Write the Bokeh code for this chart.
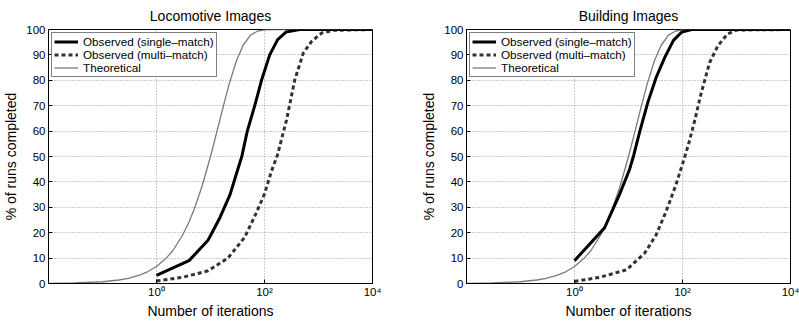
from bokeh.plotting import figure
from bokeh.models import Range1d, FixedTicker, Legend, LegendItem
from bokeh.layouts import row
from bokeh.embed import file_html
from bokeh.resources import INLINE

FONT = "Liberation Sans"

# Theoretical curve (same in both panels)
theory_x = [0.01, 0.03, 0.1, 0.2, 0.3, 0.5, 0.7, 1, 1.5, 2, 3, 4, 5, 7, 10, 13, 17, 22,
            30, 40, 55, 75, 100, 150, 10000]
theory_y = [0.07, 0.21, 0.69, 1.38, 2.06, 3.4, 4.7, 6.7, 9.9, 12.9, 18.8, 24.2, 29.3, 38.4,
            50.0, 59.4, 69.2, 78.3, 87.5, 93.7, 97.8, 99.4, 99.9, 100, 100]

# Locomotive Images
loco_single_x = [1, 4, 9, 15, 23, 30, 38, 48, 66, 88, 125, 175, 250, 450, 10000]
loco_single_y = [3.2, 9.0, 17.0, 26.0, 35.0, 43.0, 50.0, 60.0, 70.0, 80.0, 90.0, 96.0, 99.0, 100, 100]
loco_multi_x = [1, 3, 9, 21, 43, 68, 99, 135, 174, 256, 364, 522, 744, 1140, 1870, 10000]
loco_multi_y = [1.0, 2.4, 5.0, 10.0, 18.2, 27.1, 35.0, 44.3, 50.6, 64.4, 80.2, 90.7, 95.3, 98.6, 99.7, 100]

# Building Images
bldg_single_x = [1, 3.6, 6.8, 10.5, 12.5, 16, 22.8, 32.6, 47, 68, 97, 148, 10000]
bldg_single_y = [9.0, 21.9, 35.0, 45.0, 50.5, 59.5, 71.3, 81.2, 89.0, 95.7, 99.0, 100, 100]
bldg_multi_x = [1, 2.9, 9.2, 20, 32.6, 50, 76, 100, 130, 170, 222, 318, 455, 688, 1000, 10000]
bldg_multi_y = [0.8, 2.4, 5.4, 12.0, 19.2, 28.5, 39.0, 47.0, 55.0, 64.5, 75.0, 87.0, 93.7, 98.3, 99.8, 100]

x_ticks = [1, 100, 10000]
x_tick_labels = {1: "10\u2070", 100: "10\u00b2", 10000: "10\u2074"}
y_ticks = list(range(0, 101, 10))

legend_labels = ["Observed (single\u2013match)", "Observed (multi\u2013match)", "Theoretical"]


def make_panel(title, sx, sy, mx, my, border_left, border_right):
    p = figure(frame_width=324, frame_height=254,
               x_axis_type="log", x_range=Range1d(0.01, 10000), y_range=Range1d(0, 100),
               output_backend="svg", toolbar_location=None,
               min_border_left=border_left, min_border_right=border_right,
               min_border_top=29, min_border_bottom=38)
    p.title.text = title
    p.title.align = "center"
    p.title.text_font = FONT
    p.title.text_font_size = "14px"
    p.title.text_font_style = "normal"
    p.title.text_color = "black"
    p.title.standoff = 11

    rt = p.line(theory_x, theory_y, line_color="#7a7a7a", line_width=1.3)
    rm = p.line(mx, my, line_color="#333333", line_width=3, line_dash="4 3")
    rs = p.line(sx, sy, line_color="black", line_width=3)

    p.xaxis.ticker = FixedTicker(ticks=x_ticks, minor_ticks=[])
    p.xaxis.major_label_overrides = x_tick_labels
    p.yaxis.ticker = FixedTicker(ticks=y_ticks, minor_ticks=[])
    p.xgrid.ticker = FixedTicker(ticks=x_ticks, minor_ticks=[])
    p.ygrid.ticker = FixedTicker(ticks=y_ticks, minor_ticks=[])

    for ax in (p.xaxis, p.yaxis):
        ax.major_tick_in = 4
        ax.major_tick_out = 0
        ax.minor_tick_in = 0
        ax.minor_tick_out = 0
        ax.axis_line_color = "black"
        ax.major_tick_line_color = "black"
        ax.major_label_text_font = FONT
        ax.major_label_text_font_size = "11.5px"
        ax.major_label_text_color = "black"
        ax.axis_label_text_font = FONT
        ax.axis_label_text_font_size = "14px"
        ax.axis_label_text_font_style = "normal"
        ax.axis_label_text_color = "black"
    p.xaxis.axis_label = "Number of iterations"
    p.yaxis.axis_label = "% of runs completed"
    p.xaxis.major_label_standoff = 2
    p.yaxis.major_label_standoff = 3
    p.xaxis.axis_label_standoff = 2
    p.yaxis.axis_label_standoff = 4

    for g in (p.xgrid, p.ygrid):
        g.grid_line_color = "#9a9a9a"
        g.grid_line_dash = "1 2"
        g.grid_line_width = 1

    p.outline_line_color = "black"
    p.outline_line_width = 1
    p.background_fill_color = "white"
    p.border_fill_color = "white"

    legend = Legend(items=[LegendItem(label=legend_labels[0], renderers=[rs]),
                           LegendItem(label=legend_labels[1], renderers=[rm]),
                           LegendItem(label=legend_labels[2], renderers=[rt])],
                    location="top_left")
    legend.border_line_color = "black"
    legend.border_line_width = 1.5
    legend.background_fill_color = "white"
    legend.background_fill_alpha = 1
    legend.label_text_font = FONT
    legend.label_text_font_size = "11.7px"
    legend.label_text_color = "black"
    legend.glyph_width = 24
    legend.glyph_height = 11
    legend.label_height = 11
    legend.label_standoff = 5
    legend.spacing = 0
    legend.padding = 2
    legend.margin = 3
    p.add_layout(legend)
    return p


left = make_panel("Locomotive Images", loco_single_x, loco_single_y,
                  loco_multi_x, loco_multi_y, 45, 31)
right = make_panel("Building Images", bldg_single_x, bldg_single_y,
                   bldg_multi_x, bldg_multi_y, 63, 12)

layout = row(left, right)
open("out.html", "w").write(file_html(layout, INLINE))
